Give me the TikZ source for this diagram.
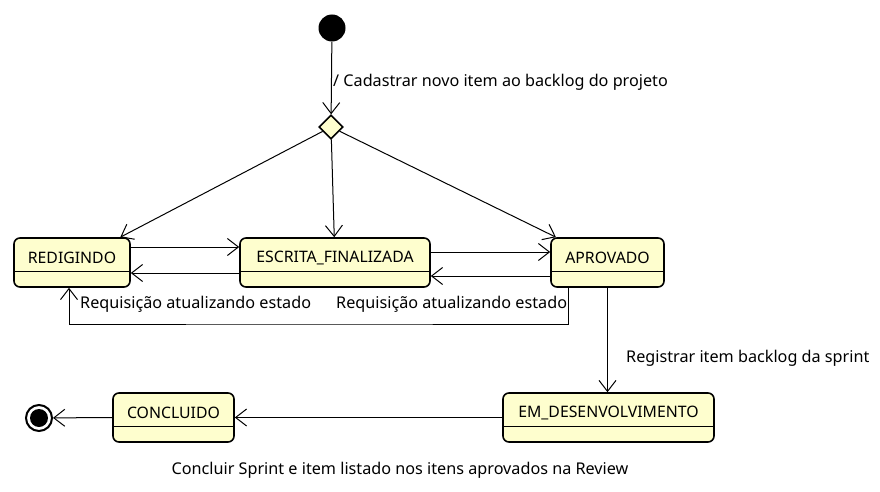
\documentclass[tikz,border=0pt]{standalone}
\usepackage{fontspec}
\setmainfont{Noto Sans}
\usetikzlibrary{arrows.meta,shapes.geometric}
\definecolor{stfill}{HTML}{FEFECE}
\tikzset{
  statebox/.style n args={2}{draw=black, line width=1.6pt, fill=stfill, rounded corners=6pt,
    minimum width=#1, minimum height=49pt, inner sep=0pt,
    label={[anchor=center, yshift=-20.5pt, font=\fontsize{15.8pt}{18pt}\selectfont]north:#2},
    path picture={\draw[line width=1pt] ([yshift=-33pt]path picture bounding box.north west) -- ([yshift=-33pt]path picture bounding box.north east);}},
  conn/.style={draw=black, line width=1pt, -{Straight Barb[length=11pt,width=17pt]}},
  lbl/.style={font=\fontsize{16.2pt}{18pt}\selectfont, inner sep=0pt},
}
\begin{document}
\begin{tikzpicture}[x=1pt,y=-1pt]
\useasboundingbox (0,0) rectangle (880,492);
\node[circle, fill=black, minimum size=27pt, inner sep=0pt] (init) at (332,28) {};
\node[diamond, draw=black, line width=1.6pt, fill=stfill, minimum size=24pt, inner sep=0pt] (dec) at (331,127) {};
\node[statebox={116pt}{REDIGINDO}] (red) at (72,262.5) {};
\node[statebox={190pt}{ESCRITA\_FINALIZADA}] (esc) at (335,262.5) {};
\node[statebox={113pt}{APROVADO}] (apr) at (607.5,262.5) {};
\node[statebox={211pt}{EM\_DESENVOLVIMENTO}] (emd) at (608.5,417.5) {};
\node[statebox={121pt}{CONCLUIDO}] (con) at (173.5,417.5) {};
\node[circle, draw=black, line width=2pt, fill=white, minimum size=26pt, inner sep=0pt] (fin) at (39,418) {};
\node[circle, fill=black, minimum size=18pt, inner sep=0pt] (finin) at (39,418) {};
\coordinate (loop) at (300,324);

\draw[conn] (init) -- (dec);
\node[lbl, anchor=west] (l1) at (333,82) {/ Cadastrar novo item ao backlog do projeto};
\draw[conn] (dec) -- (red);
\draw[conn] (dec) -- (esc);
\draw[conn] (dec) -- (apr);
\draw[conn] ([yshift=15.5pt]red.east) -- ([yshift=15.5pt]esc.west);
\draw[conn] ([yshift=-10.5pt]esc.west) -- ([yshift=-10.5pt]red.east);
\draw[conn] ([yshift=10.5pt]esc.east) -- ([yshift=10.5pt]apr.west);
\draw[conn] ([yshift=-13.5pt]apr.west) -- ([yshift=-13.5pt]esc.east);
\draw[conn] ([xshift=-39.5pt]apr.south) |- (loop) -| ([xshift=-3pt]red.south);
\node[lbl, anchor=west] (l2) at (80,304.5) {Requisição atualizando estado};
\node[lbl, anchor=west] (l3) at (336,304.5) {Requisição atualizando estado};
\draw[conn] (apr.south) -- (apr.south |- emd.north);
\node[lbl, anchor=west] (l4) at (626,358.5) {Registrar item backlog da sprint};
\draw[conn] (emd.west) -- (con.east);
\node[lbl] (l5) at (400,470.5) {Concluir Sprint e item listado nos itens aprovados na Review};
\draw[conn] (con.west) -- (fin);
\end{tikzpicture}
\end{document}
